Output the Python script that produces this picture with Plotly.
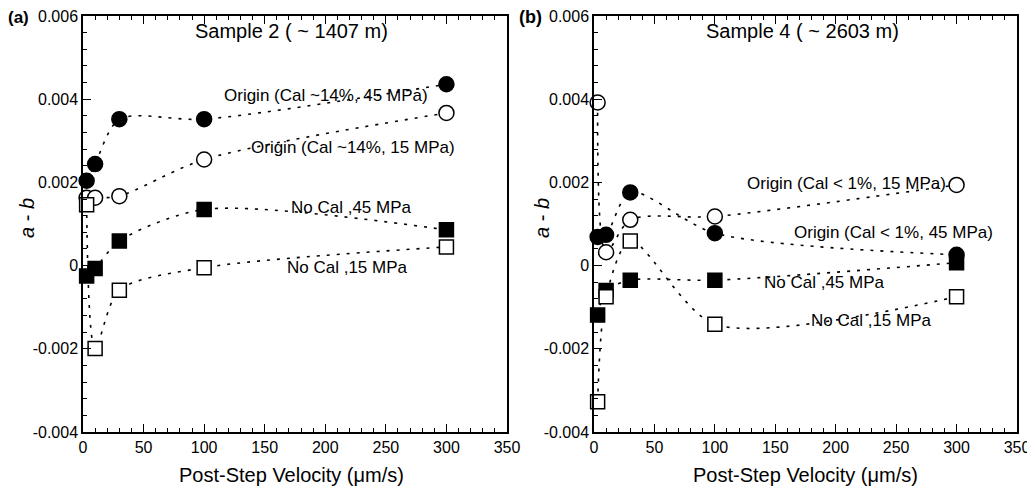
import plotly.graph_objects as go

velocity = [3, 10, 30, 100, 300]

# Panel (a): Sample 2 (~1407 m)
a_origin_45 = [0.00204, 0.00244, 0.00352, 0.00352, 0.00436]
a_origin_15 = [0.00163, 0.00163, 0.00167, 0.00255, 0.00367]
a_nocal_45 = [-0.00025, -0.00007, 0.00059, 0.00135, 0.00086]
a_nocal_15 = [0.00146, -0.00199, -0.00059, -0.00005, 0.00045]

# Panel (b): Sample 4 (~2603 m)
b_origin_15 = [0.00392, 0.00032, 0.00110, 0.00118, 0.00194]
b_origin_45 = [0.00069, 0.00074, 0.00176, 0.00078, 0.00026]
b_nocal_45 = [-0.00119, -0.00060, -0.00035, -0.00035, 0.00007]
b_nocal_15 = [-0.00327, -0.00075, 0.00059, -0.00141, -0.00075]

y_tickvals = [-0.004, -0.002, 0, 0.002, 0.004, 0.006]
y_ticktext = ["-0.004", "-0.002", "0", "0.002", "0.004", "0.006"]
x_tickvals = [0, 50, 100, 150, 200, 250, 300, 350]
x_ticktext = ["0", "50", "100", "150", "200", "250", "300", "350"]

FONT = "Liberation Sans, Arial, sans-serif"
fig = go.Figure()

def add_series(y, xa, ya, symbol, filled):
    fig.add_trace(go.Scatter(
        x=velocity, y=y, xaxis=xa, yaxis=ya, mode="lines+markers",
        line=dict(color="black", width=1.6, dash="3px,7px", shape="spline", smoothing=0.8),
        marker=dict(symbol=symbol, size=15 if symbol == "circle" else 14,
                    color="black" if filled else "white",
                    line=dict(color="black", width=1.5)),
        showlegend=False, cliponaxis=False))

add_series(a_origin_45, "x", "y", "circle", True)
add_series(a_origin_15, "x", "y", "circle", False)
add_series(a_nocal_45, "x", "y", "square", True)
add_series(a_nocal_15, "x", "y", "square", False)

add_series(b_origin_15, "x2", "y2", "circle", False)
add_series(b_origin_45, "x2", "y2", "circle", True)
add_series(b_nocal_45, "x2", "y2", "square", True)
add_series(b_nocal_15, "x2", "y2", "square", False)

# the page body has an 8px margin; work in screen pixels and convert
OFF = 8
W, H = 1035 - OFF, 493 - OFF

def px(sx):
    return (sx - OFF) / W

def py(sy):
    return 1 - (sy - OFF) / H

xd1 = [px(83), px(507)]
xd2 = [px(594), px(1017)]
yd = [py(432), py(16)]

def xaxis(domain, anchor):
    return dict(domain=domain, anchor=anchor, range=[0, 350], tickvals=x_tickvals, ticktext=x_ticktext,
                ticks="inside", ticklen=8, tickwidth=1.3, tickcolor="black",
                minor=dict(dtick=10, tick0=0, ticks="inside", ticklen=4, tickwidth=1.2, tickcolor="black"),
                showline=True, linecolor="black", linewidth=1.5, mirror="allticks",
                showgrid=False, zeroline=False, automargin=False, ticklabeloverflow="allow",
                tickfont=dict(family=FONT, size=16, color="black"))

def yaxis(anchor):
    return dict(domain=yd, anchor=anchor, range=[-0.004, 0.006], tickvals=y_tickvals, ticktext=y_ticktext,
                ticks="inside", ticklen=8, tickwidth=1.3, tickcolor="black",
                minor=dict(dtick=0.0004, tick0=0, ticks="inside", ticklen=4, tickwidth=1.2, tickcolor="black"),
                showline=True, linecolor="black", linewidth=1.5, mirror=True,
                showgrid=False, zeroline=False, automargin=False, ticklabeloverflow="allow",
                tickfont=dict(family=FONT, size=16, color="black"))

def yright(overlay, anchor):
    return dict(overlaying=overlay, anchor=anchor, side="right", range=[-0.004, 0.006],
                dtick=0.001, tick0=0, showticklabels=False,
                ticks="inside", ticklen=8, tickwidth=1.3, tickcolor="black",
                minor=dict(dtick=0.0002, tick0=0, ticks="inside", ticklen=4, tickwidth=1.2, tickcolor="black"),
                showline=False, showgrid=False, zeroline=False, automargin=False)

fig.update_layout(
    template="none",
    width=W, height=H, margin=dict(l=0, r=0, t=0, b=0, autoexpand=False),
    paper_bgcolor="white", plot_bgcolor="white",
    xaxis=xaxis(xd1, "y"), yaxis=yaxis("x"),
    xaxis2=xaxis(xd2, "y2"), yaxis2=yaxis("x2"),
    yaxis3=yright("y", "x"), yaxis4=yright("y2", "x2"),
)

def ann(text, x, y, size=17, **kw):
    fig.add_annotation(text=text, x=px(x), y=py(y), xref="paper", yref="paper", showarrow=False,
                       xanchor="center", yanchor="middle",
                       font=dict(family=FONT, size=size, color="black"), **kw)

# panel labels
ann("<b>(a)</b>", 18, 17, size=17)
ann("<b>(b)</b>", 530, 17, size=18)

# axis titles
ann("Post-Step Velocity (\u03bcm/s)", 291, 475, size=20)
ann("Post-Step Velocity (\u03bcm/s)", 805, 475, size=20)
ann("<i>a</i> - <i>b</i>", 27, 218, size=20, textangle=-90)
ann("<i>a</i> - <i>b</i>", 542, 218, size=20, textangle=-90)

# panel (a) annotations (pixel centres)
ann("Sample 2 ( ~ 1407 m)", 291, 31, size=20)
ann("Origin (Cal ~14%, 45 MPa)", 326, 95)
ann("Origin (Cal ~14%, 15 MPa)", 353, 147)
ann("No Cal ,45 MPa", 351, 207)
ann("No Cal ,15 MPa", 347, 267)

# panel (b) annotations
ann("Sample 4 ( ~ 2603 m)", 802, 31, size=20)
ann("Origin (Cal < 1%, 15 MPa)", 846, 183)
ann("Origin (Cal < 1%, 45 MPa)", 893, 232)
ann("No Cal ,45 MPa", 824, 282)
ann("No Cal ,15 MPa", 871, 320)

fig.write_html("out.html")
